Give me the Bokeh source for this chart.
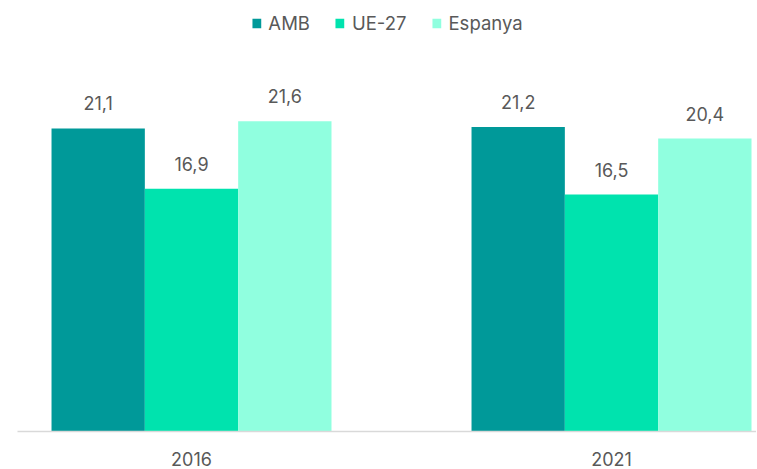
from bokeh.plotting import figure
from bokeh.models import ColumnDataSource, Range1d, FixedTicker, LabelSet, Legend, LegendItem
from bokeh.core.properties import value
from bokeh.transform import dodge
from bokeh.embed import file_html
from bokeh.resources import INLINE

years = ["2016", "2021"]
series = ["AMB", "UE-27", "Espanya"]
amb = [21.1, 21.2]
ue27 = [16.9, 16.5]
espanya = [21.6, 20.4]
colors = ["#009999", "#00E3AE", "#90FFDF"]

FONT = "Inter"
TXT = "#595959"

p = figure(width=756, height=469, output_backend="svg", toolbar_location=None,
           x_range=Range1d(-0.4143, 1.3452), y_range=Range1d(0, 30.01),
           min_border_left=17, min_border_right=0, min_border_top=0, min_border_bottom=38)
p.outline_line_color = None
p.xgrid.grid_line_color = None
p.ygrid.grid_line_color = None
p.yaxis.visible = False

xi = list(range(len(years)))
bw = 0.2222
offsets = [-bw, 0, bw]
renderers = []
for name, vals, col, off in zip(series, [amb, ue27, espanya], colors, offsets):
    src = ColumnDataSource(dict(x=xi, v=vals,
                                lbl=[f"{v:.1f}".replace(".", ",") for v in vals]))
    r = p.vbar(x=dodge("x", off), top="v", width=bw, source=src,
               fill_color=col, line_color=None)
    renderers.append((name, r))
    ls = LabelSet(x=dodge("x", off), y="v", text="lbl", source=src,
                  text_align="center", text_baseline="alphabetic", y_offset=18,
                  text_font=value(FONT), text_font_size="18px", text_color=TXT)
    p.add_layout(ls)

legend = Legend(items=[LegendItem(label=n, renderers=[r]) for n, r in renderers],
                orientation="horizontal", location="top_center",
                glyph_width=11, glyph_height=12, label_standoff=7, spacing=24,
                label_text_font=FONT, label_text_font_size="18.5px",
                label_text_color=TXT, border_line_color=None,
                background_fill_alpha=0, margin=12, padding=5)
p.add_layout(legend)

ax = p.xaxis[0]
ax.ticker = FixedTicker(ticks=xi)
ax.major_label_overrides = {i: y for i, y in zip(xi, years)}
ax.axis_line_color = "#D9D9D9"
ax.axis_line_width = 1.5
ax.major_tick_line_color = None
ax.minor_tick_line_color = None
ax.major_label_standoff = 14
ax.major_label_text_font = FONT
ax.major_label_text_font_size = "18px"
ax.major_label_text_color = TXT

open("out.html", "w").write(file_html(p, INLINE))
